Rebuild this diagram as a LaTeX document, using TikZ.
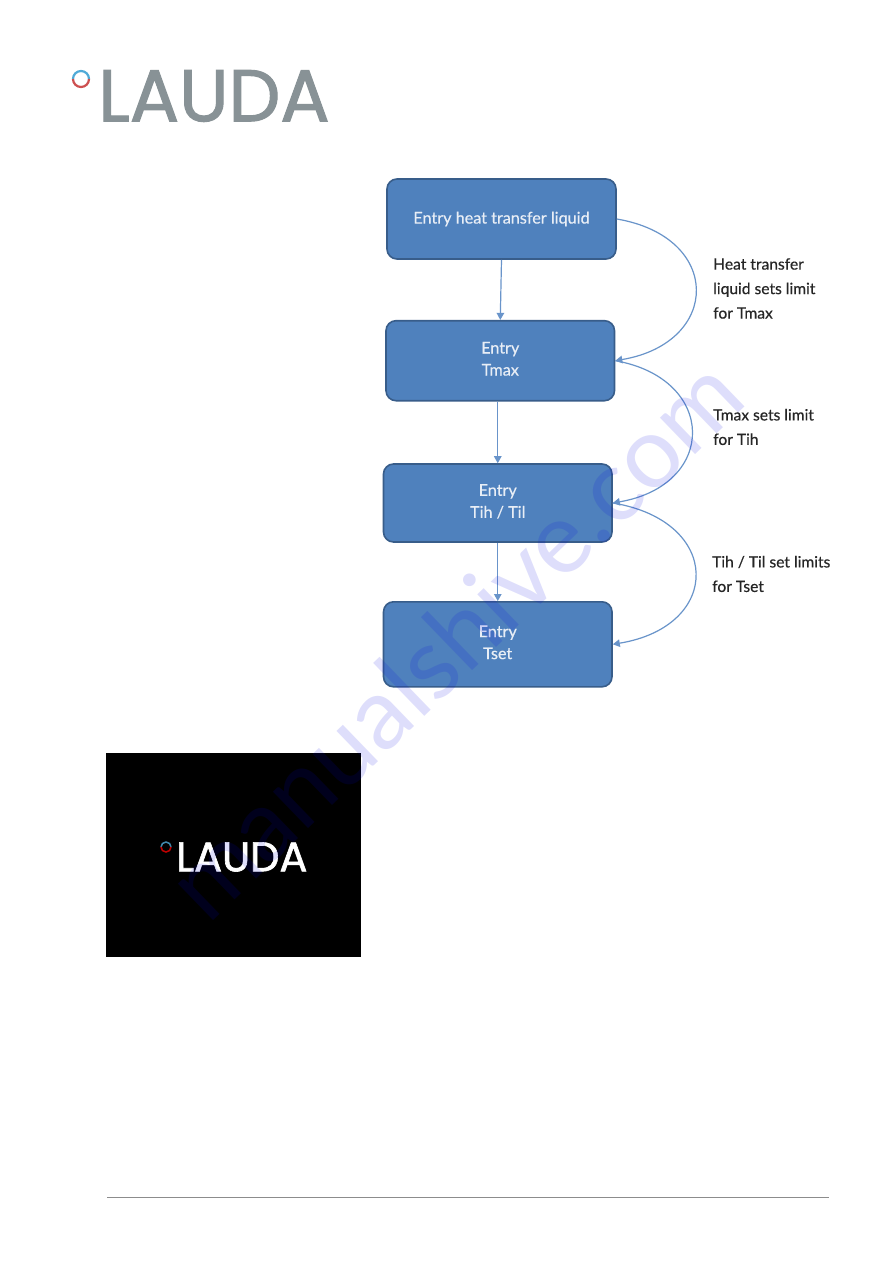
\documentclass[tikz,border=0pt]{standalone}
\usepackage{fontspec}
\setmainfont{Lato}[FakeBold=0.4]
\newfontfamily\logofont{Poppins}[FakeBold=1.5]
\newfontfamily\filigranefont{Lato}
\definecolor{boite}{RGB}{79,129,189}
\definecolor{bord}{RGB}{56,93,138}
\definecolor{coullien}{RGB}{105,148,202}
\definecolor{texteboite}{RGB}{232,238,246}
\definecolor{logogris}{RGB}{136,146,150}
\definecolor{anneaurouge}{RGB}{205,80,80}
\definecolor{anneaubleu}{RGB}{80,170,215}
\usetikzlibrary{arrows.meta}
\tikzset{
	entree/.style={draw=bord, line width=1.6pt, fill=boite, rounded corners=10pt, text=texteboite, align=center, font=\fontsize{16.2}{22}\selectfont},
	deuxlignes/.style={text depth=4pt},
	lien/.style={-{Triangle[length=7pt,width=7.5pt]}, coullien, line width=1.2pt},
	note/.style={anchor=west, align=left, inner sep=0pt, text=black!85, font=\fontsize{15.6}{24.5}\selectfont}
}

\begin{document}
\begin{tikzpicture}[x=1pt, y=-1pt]
	\useasboundingbox[fill=white] (0,0) rectangle (893,1263);

	% Logo en haut
	\node[anchor=west, inner sep=0pt, text=logogris, font=\logofont\fontsize{73.2}{74}\selectfont] (logohaut) at (98,96) {LAUDA};
	\draw[anneaubleu, line width=2.2pt] (89,79) arc (0:-180:8);
	\draw[anneaurouge, line width=2.2pt] (73,79) arc (180:0:8);

	% Boites
	\node[entree, minimum width=229pt, minimum height=80pt] (liquide) at (501.5,219) {Entry heat transfer liquid};
	\node[entree, deuxlignes, minimum width=228.5pt, minimum height=80pt] (tmax) at (500.25,360.7) {Entry\\Tmax};
	\node[entree, deuxlignes, minimum width=228.5pt, minimum height=78pt] (tih) at (497.75,503) {Entry\\Tih / Til};
	\node[entree, deuxlignes, minimum width=228.5pt, minimum height=85pt] (tset) at (497.75,644.3) {Entry\\Tset};

	% Fleches droites
	\draw[lien] (liquide.south) -- (tmax.north);
	\draw[lien] (tmax.south -| tih.north) -- (tih.north);
	\draw[lien] (tih.south) -- (tset.north);

	% Fleches courbes
	\draw[lien] (liquide.east) .. controls +(106,18) and +(106,-18) .. (tmax.east);
	\draw[lien] (tmax.east) .. controls +(102,18) and +(105,-18) .. (tih.east);
	\draw[lien] (tih.east) .. controls +(110,18) and +(110,-18) .. (tset.east);

	% Textes
	\node[note] (notetmax) at (713,288.5) {Heat transfer\\liquid sets limit\\for Tmax};
	\node[note] (notetih) at (713,427) {Tmax sets limit\\for Tih};
	\node[note] (notetset) at (712,574) {Tih / Til set limits\\for Tset};

	% Ecran noir
	\fill[black] (106,753) rectangle (361,957);
	\node[anchor=west, inner sep=0pt, text=white, font=\logofont\fontsize{41.5}{42}\selectfont] (logobas) at (176,857) {LAUDA};
	\draw[anneaubleu!80!black, line width=1.5pt] (171,847) arc (0:-180:5);
	\draw[red!75!black, line width=1.5pt] (161,847) arc (180:0:5);

	% Filet du bas
	\coordinate (filetg) at (107,1197);
	\coordinate (filetd) at (829,1197);
	\draw[black!45, line width=0.7pt] (filetg) -- (filetd);

	% Filigrane
	\node[rotate=44, text=blue!90!black, opacity=0.13, font=\filigranefont\fontsize{100}{100}\selectfont, inner sep=0pt] (filigrane) at (454,638) {manualshive.com};
\end{tikzpicture}
\end{document}
